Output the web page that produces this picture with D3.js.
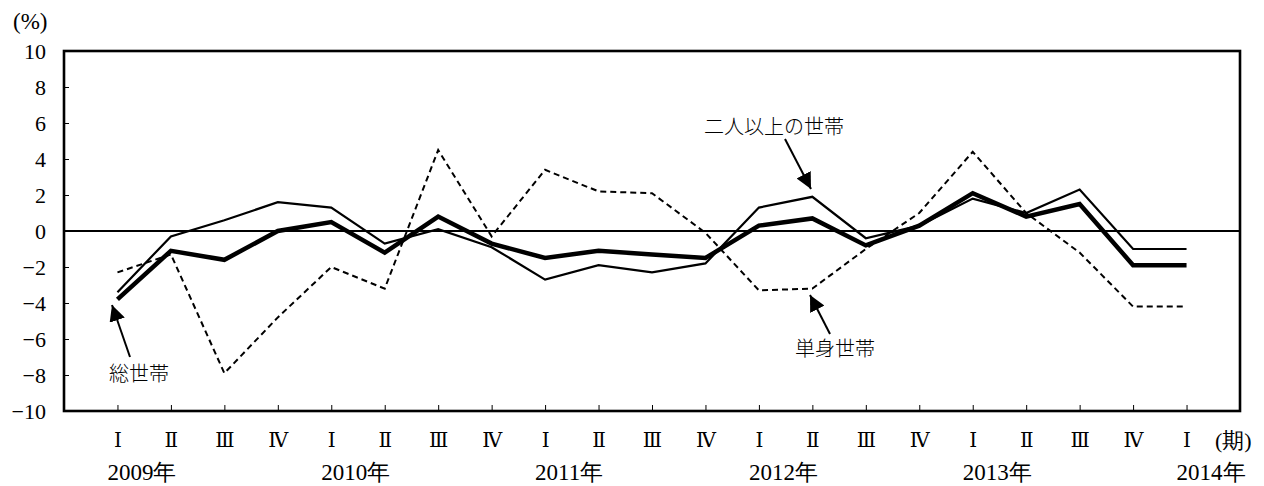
<!DOCTYPE html>
<html>
<head>
<meta charset="utf-8">
<script src="https://cdn.jsdelivr.net/npm/d3@7"></script>
<style>
  html, body { margin: 0; padding: 0; background: #fff; }
  svg { display: block; }
</style>
</head>
<body>
<svg id="chart" width="1264" height="486"></svg>
<script>
// ---- data ----
const quarters = ["Ⅰ","Ⅱ","Ⅲ","Ⅳ","Ⅰ","Ⅱ","Ⅲ","Ⅳ","Ⅰ","Ⅱ","Ⅲ","Ⅳ","Ⅰ","Ⅱ","Ⅲ","Ⅳ","Ⅰ","Ⅱ","Ⅲ","Ⅳ","Ⅰ"];
const years = [{label: "2009年", idx: 0}, {label: "2010年", idx: 4}, {label: "2011年", idx: 8},
               {label: "2012年", idx: 12}, {label: "2013年", idx: 16}, {label: "2014年", idx: 20}];
const totalHouseholds = [-3.8, -1.1, -1.6, 0.0, 0.5, -1.2, 0.8, -0.7, -1.5, -1.1, -1.3, -1.5, 0.3, 0.7, -0.8, 0.3, 2.1, 0.8, 1.5, -1.9, -1.9];
const twoOrMore = [-3.4, -0.3, 0.6, 1.6, 1.3, -0.7, 0.1, -0.9, -2.7, -1.9, -2.3, -1.8, 1.3, 1.9, -0.4, 0.3, 1.8, 1.0, 2.3, -1.0, -1.0];
const single = [-2.3, -1.3, -7.9, -4.8, -2.0, -3.2, 4.5, -0.3, 3.4, 2.2, 2.1, -0.1, -3.3, -3.2, -1.0, 1.0, 4.4, 1.0, -1.2, -4.2, -4.2];
const yTicks = [-10, -8, -6, -4, -2, 0, 2, 4, 6, 8, 10];

const SERIF = "Liberation Serif";
const ROMAN = "DejaVu Serif";
const JP = "Noto Sans CJK JP";

// ---- layout ----
const svg = d3.select("#chart");
const L = 64, R = 1240, T = 51, B = 411;
const x = d3.scaleLinear().domain([-1, 21]).range([L, R]);
const y = d3.scaleLinear().domain([-10, 10]).range([B, T]);

// arrowhead marker
svg.append("defs").append("marker")
  .attr("id", "arr").attr("viewBox", "0 0 10 10").attr("refX", 10).attr("refY", 5)
  .attr("markerWidth", 16).attr("markerHeight", 16).attr("markerUnits", "userSpaceOnUse")
  .attr("orient", "auto")
  .append("path").attr("d", "M0,0 L10,5 L0,10 Z").attr("fill", "#000");

// y axis ticks (inward) and labels
const yAxis = d3.axisLeft(y).tickValues(yTicks).tickSize(-5).tickFormat(d => d < 0 ? "−" + Math.abs(d) : d);
const gy = svg.append("g").attr("transform", `translate(${L},0)`).call(yAxis);
gy.attr("font-family", null).attr("font-size", null);
gy.select(".domain").remove();
gy.selectAll(".tick line").attr("stroke", "#000").attr("stroke-width", 1);
gy.selectAll(".tick text").attr("x", -18).attr("dy", "0.35em").attr("fill", "#000")
  .attr("font-family", SERIF).attr("font-size", 22);

// x axis ticks (inward) and quarter labels
const xAxis = d3.axisBottom(x).tickValues(d3.range(quarters.length)).tickSize(-6).tickFormat(i => quarters[i]);
const gx = svg.append("g").attr("transform", `translate(0,${B})`).call(xAxis);
gx.attr("font-family", null).attr("font-size", null);
gx.select(".domain").remove();
gx.selectAll(".tick line").attr("stroke", "#000").attr("stroke-width", 1);
gx.selectAll(".tick text").attr("y", 29).attr("dy", "0.35em").attr("fill", "#000")
  .attr("font-family", ROMAN).attr("font-size", 20);

// year labels
svg.append("g").selectAll("text").data(years).join("text")
  .attr("x", d => x(d.idx) - 10).attr("y", 472).attr("dy", "0.35em")
  .attr("font-family", SERIF).attr("font-size", 23).text(d => d.label);

// unit labels
svg.append("text").attr("x", 13).attr("y", 21).attr("dy", "0.35em")
  .attr("font-family", SERIF).attr("font-size", 23).text("(%)");
svg.append("text").attr("x", 1215).attr("y", 440).attr("dy", "0.35em")
  .attr("font-family", SERIF).attr("font-size", 22).text("(期)");

// zero line
svg.append("line").attr("x1", L).attr("x2", R).attr("y1", y(0)).attr("y2", y(0))
  .attr("stroke", "#000").attr("stroke-width", 2);

// series lines
const line = d3.line().x((d, i) => x(i)).y(d => y(d));
svg.append("path").datum(single).attr("d", line).attr("fill", "none")
  .attr("stroke", "#000").attr("stroke-width", 2).attr("stroke-dasharray", "6,4");
svg.append("path").datum(twoOrMore).attr("d", line).attr("fill", "none")
  .attr("stroke", "#000").attr("stroke-width", 2.2);
svg.append("path").datum(totalHouseholds).attr("d", line).attr("fill", "none")
  .attr("stroke", "#000").attr("stroke-width", 4.5);

// frame
svg.append("rect").attr("x", L).attr("y", T).attr("width", R - L).attr("height", B - T)
  .attr("fill", "none").attr("stroke", "#000").attr("stroke-width", 2.6);

// annotations
const ann = [
  {text: "二人以上の世帯", tx: 774, ty: 127, x1: 785, y1: 139, x2: 811, y2: 189},
  {text: "単身世帯", tx: 835, ty: 349, x1: 830, y1: 334, x2: 810, y2: 295},
  {text: "総世帯", tx: 139, ty: 374, x1: 130, y1: 357, x2: 112, y2: 305}
];
svg.append("g").selectAll("text").data(ann).join("text")
  .attr("x", d => d.tx).attr("y", d => d.ty).attr("dy", "0.35em")
  .attr("text-anchor", "middle")
  .attr("font-family", JP).attr("font-size", 20).attr("font-weight", 300)
  .text(d => d.text);
svg.append("g").selectAll("line").data(ann).join("line")
  .attr("x1", d => d.x1).attr("y1", d => d.y1).attr("x2", d => d.x2).attr("y2", d => d.y2)
  .attr("stroke", "#000").attr("stroke-width", 2).attr("marker-end", "url(#arr)");
</script>
</body>
</html>
